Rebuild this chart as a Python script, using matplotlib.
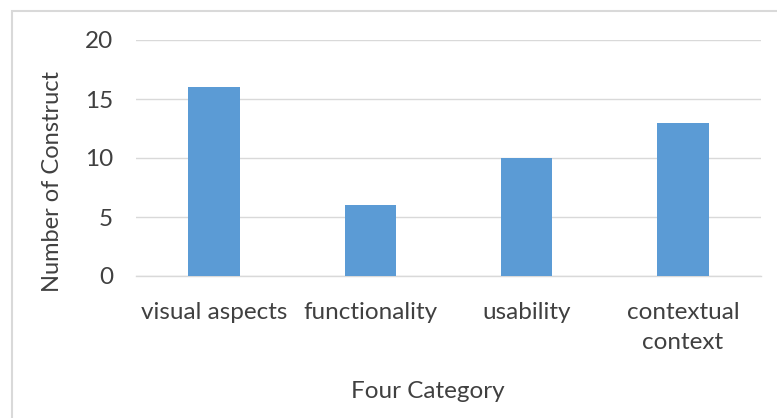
import matplotlib
matplotlib.use("Agg")
import matplotlib.pyplot as plt
from matplotlib.patches import Rectangle

categories = ["visual aspects", "functionality", "usability", "contextual\ncontext"]
values = [16, 6, 10, 13]
yticks = [0, 5, 10, 15, 20]

plt.rcParams["font.family"] = ["Lato", "DejaVu Sans"]

W, H = 777, 418
fig = plt.figure(figsize=(W / 100, H / 100), dpi=100)
fig.patch.set_facecolor("white")

# chart-area frame (right and bottom edges run past the canvas)
fig.add_artist(Rectangle((11.5 / W, -0.01), (W - 5) / W, (H - 11) / H + 0.01,
                         transform=fig.transFigure, fill=False,
                         edgecolor="#D9D9D9", linewidth=1.5))

ax = fig.add_axes([136 / W, 1 - 276 / H, 625 / W, 236 / H])
x = range(len(categories))
ax.bar(x, values, width=0.33, color="#5B9BD5", zorder=3)

ax.set_xlim(-0.5, len(categories) - 0.5)
ax.set_ylim(0, 20)
ax.set_yticks(yticks)
ax.set_yticklabels([str(t) for t in yticks])
ax.set_xticks(list(x))
ax.set_xticklabels(categories, linespacing=1.5)

FS = 17.5
ax.yaxis.grid(True, color="#D9D9D9", linewidth=1.0, zorder=0)
for side in ("top", "right", "left"):
    ax.spines[side].set_visible(False)
ax.spines["bottom"].set_color("#D9D9D9")
ax.spines["bottom"].set_linewidth(1.0)
ax.tick_params(axis="both", length=0, labelsize=FS, colors="#404040")
ax.tick_params(axis="y", pad=16.5)
ax.tick_params(axis="x", pad=19)

fig.text(53 / W, 1 - 181 / H, "Number of Construct", rotation=90,
         ha="center", va="center", fontsize=FS - 0.5, color="#404040")
fig.text(428 / W, 1 - 392 / H, "Four Category", ha="center", va="center",
         fontsize=FS, color="#404040")

fig.savefig("out.png", dpi=100, facecolor="white")
